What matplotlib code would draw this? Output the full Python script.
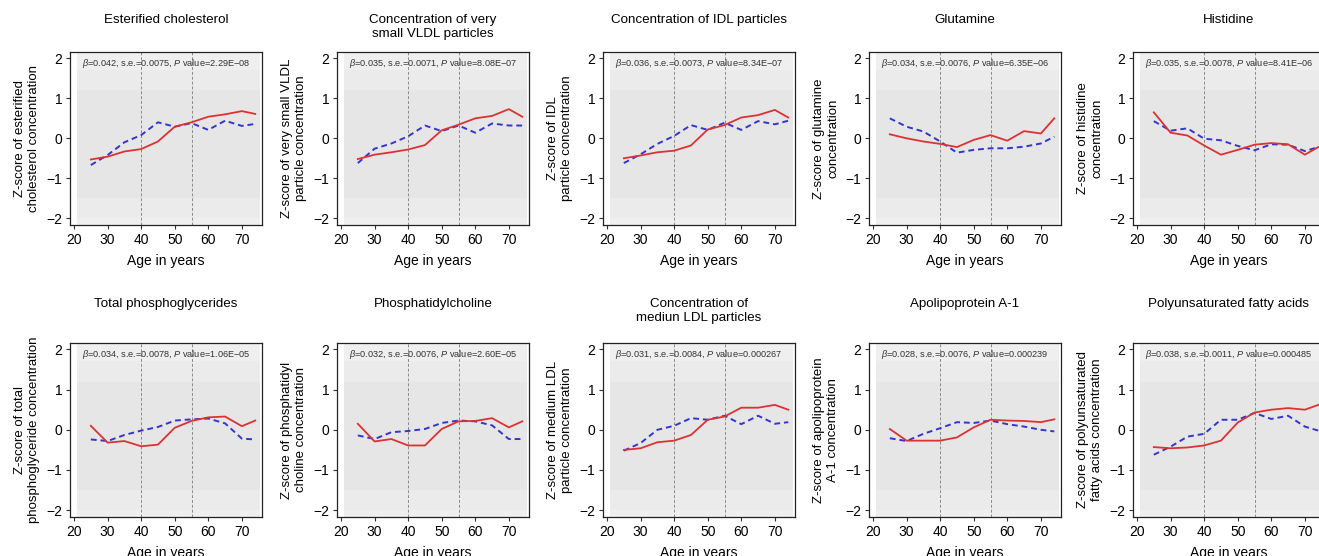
import numpy as np
import matplotlib
matplotlib.use('Agg')
import matplotlib.pyplot as plt

plt.rcParams['font.family'] = ['Liberation Sans', 'DejaVu Sans']
plt.rcParams['mathtext.fontset'] = 'custom'
plt.rcParams['mathtext.rm'] = 'Liberation Sans'
plt.rcParams['mathtext.it'] = 'Liberation Sans:italic'

# ages where the two trend lines are evaluated
ages = [25, 30, 35, 40, 45, 50, 55, 60, 65, 70, 74]

titles = ['Esterified cholesterol', 'Concentration of very\nsmall VLDL particles',
          'Concentration of IDL particles', 'Glutamine', 'Histidine',
          'Total phosphoglycerides', 'Phosphatidylcholine',
          'Concentration of\nmediun LDL particles', 'Apolipoprotein A-1',
          'Polyunsaturated fatty acids']

ylabels = ['Z-score of esterified\ncholesterol concentration',
           'Z-score of very small VLDL\nparticle concentration',
           'Z-score of IDL\nparticle concentration',
           'Z-score of glutamine\nconcentration',
           'Z-score of histidine\nconcentration',
           'Z-score of total\nphosphoglyceride concentration',
           'Z-score of phosphatidyl\ncholine concentration',
           'Z-score of medium LDL\nparticle concentration',
           'Z-score of apolipoprotein\nA-1 concentration',
           'Z-score of polyunsaturated\nfatty acids concentration']

betas = ['0.042', '0.035', '0.036', '0.034', '0.035', '0.034', '0.032', '0.031', '0.028', '0.038']
ses = ['0.0075', '0.0071', '0.0073', '0.0076', '0.0078', '0.0078', '0.0076', '0.0084', '0.0076', '0.0011']
pvals = ['2.29E\u221208', '8.08E\u221207', '8.34E\u221207', '6.35E\u221206', '8.41E\u221206',
         '1.06E\u221205', '2.60E\u221205', '0.000267', '0.000239', '0.000485']

# red solid line
red = [
    [-0.53, -0.46, -0.33, -0.27, -0.08, 0.29, 0.40, 0.54, 0.60, 0.68, 0.61],
    [-0.52, -0.41, -0.35, -0.28, -0.17, 0.20, 0.34, 0.50, 0.56, 0.73, 0.54],
    [-0.50, -0.43, -0.35, -0.31, -0.18, 0.22, 0.33, 0.52, 0.58, 0.71, 0.52],
    [0.10, 0.00, -0.08, -0.14, -0.22, -0.04, 0.08, -0.06, 0.18, 0.12, 0.50],
    [0.65, 0.14, 0.07, -0.18, -0.41, -0.29, -0.16, -0.12, -0.15, -0.41, -0.22],
    [0.10, -0.32, -0.28, -0.41, -0.37, 0.05, 0.22, 0.31, 0.33, 0.09, 0.23],
    [0.15, -0.29, -0.23, -0.39, -0.39, 0.02, 0.21, 0.22, 0.29, 0.06, 0.21],
    [-0.50, -0.46, -0.31, -0.27, -0.13, 0.25, 0.33, 0.55, 0.55, 0.62, 0.50],
    [0.02, -0.27, -0.27, -0.27, -0.19, 0.06, 0.25, 0.23, 0.22, 0.19, 0.26],
    [-0.43, -0.46, -0.44, -0.39, -0.27, 0.18, 0.43, 0.50, 0.54, 0.50, 0.62],
]

# blue dashed line
blue = [
    [-0.67, -0.42, -0.10, 0.08, 0.40, 0.29, 0.38, 0.21, 0.44, 0.31, 0.36],
    [-0.62, -0.26, -0.13, 0.05, 0.32, 0.18, 0.32, 0.14, 0.37, 0.32, 0.32],
    [-0.62, -0.40, -0.14, 0.06, 0.33, 0.21, 0.39, 0.21, 0.43, 0.35, 0.44],
    [0.50, 0.29, 0.17, -0.08, -0.36, -0.29, -0.25, -0.25, -0.21, -0.13, 0.04],
    [0.43, 0.19, 0.25, -0.01, -0.05, -0.19, -0.30, -0.15, -0.16, -0.32, -0.22],
    [-0.24, -0.28, -0.13, -0.02, 0.07, 0.23, 0.26, 0.28, 0.16, -0.22, -0.24],
    [-0.14, -0.23, -0.06, -0.03, 0.02, 0.17, 0.23, 0.21, 0.11, -0.23, -0.23],
    [-0.52, -0.33, 0.00, 0.10, 0.29, 0.25, 0.35, 0.14, 0.35, 0.15, 0.19],
    [-0.21, -0.28, -0.10, 0.04, 0.19, 0.17, 0.23, 0.14, 0.08, 0.00, -0.04],
    [-0.62, -0.42, -0.17, -0.10, 0.25, 0.25, 0.42, 0.27, 0.35, 0.08, -0.02],
]

# grey point cloud, drawn as nested density bands (outer -> inner)
cloud_ages = [21, 75.5]
cloud_bands = [(-2.3, 2.3), (-2.0, 1.7), (-1.5, 1.2)]
cloud_colors = ['#efefef', '#ebebeb', '#e6e6e6']

W, H = 1319, 556
fig = plt.figure(figsize=(W / 100, H / 100), dpi=100)

lefts = [70, 337, 603, 869, 1133]
tops = [52, 343]
heights = [173, 174]
title_tops = [14, 298]

for i in range(10):
    row, col = divmod(i, 5)
    l, t, h = lefts[col], tops[row], heights[row]
    ax = fig.add_axes([l / W, 1 - (t + h) / H, 192 / W, h / H])
    for (lo, hi), c in zip(cloud_bands, cloud_colors):
        ax.fill_between(cloud_ages, lo, hi, color=c, lw=0, zorder=0)
    for v in (40, 55):
        ax.axvline(v, color='#8a8a8a', lw=0.7, dashes=(3, 2), zorder=1)
    ax.plot(ages, red[i], color='#dc3232', lw=1.3, zorder=3)
    ax.plot(ages, blue[i], color='#3434d2', lw=1.4, dashes=(3, 2), zorder=2)
    ax.set_xlim(18.8, 76.0)
    ax.set_ylim(-2.17, 2.16)
    ax.set_xticks([20, 30, 40, 50, 60, 70])
    ax.set_yticks([-2, -1, 0, 1, 2])
    ax.set_yticklabels(['\u22122', '\u22121', '0', '1', '2'])
    ax.tick_params(length=3, width=0.8, pad=2.5, labelsize=10, color='#333333')
    for s in ax.spines.values():
        s.set_linewidth(0.9)
        s.set_color('#222222')
    ax.set_xlabel('Age in years', fontsize=10, labelpad=5)
    ax.set_ylabel(ylabels[i], fontsize=9.5, linespacing=1.3)
    ax.yaxis.set_label_coords(-0.155, 0.5)
    ax.text(0.5, 0.935, r'$\beta$=%s, s.e.=%s, $P$ value=%s' % (betas[i], ses[i], pvals[i]),
            transform=ax.transAxes, ha='center', va='center', fontsize=6.6, color='#333333')
    fig.text((l + 96) / W, 1 - title_tops[row] / H, titles[i], ha='center', va='top',
             fontsize=9.6, linespacing=1.2)

fig.savefig('out.png', dpi=100)
